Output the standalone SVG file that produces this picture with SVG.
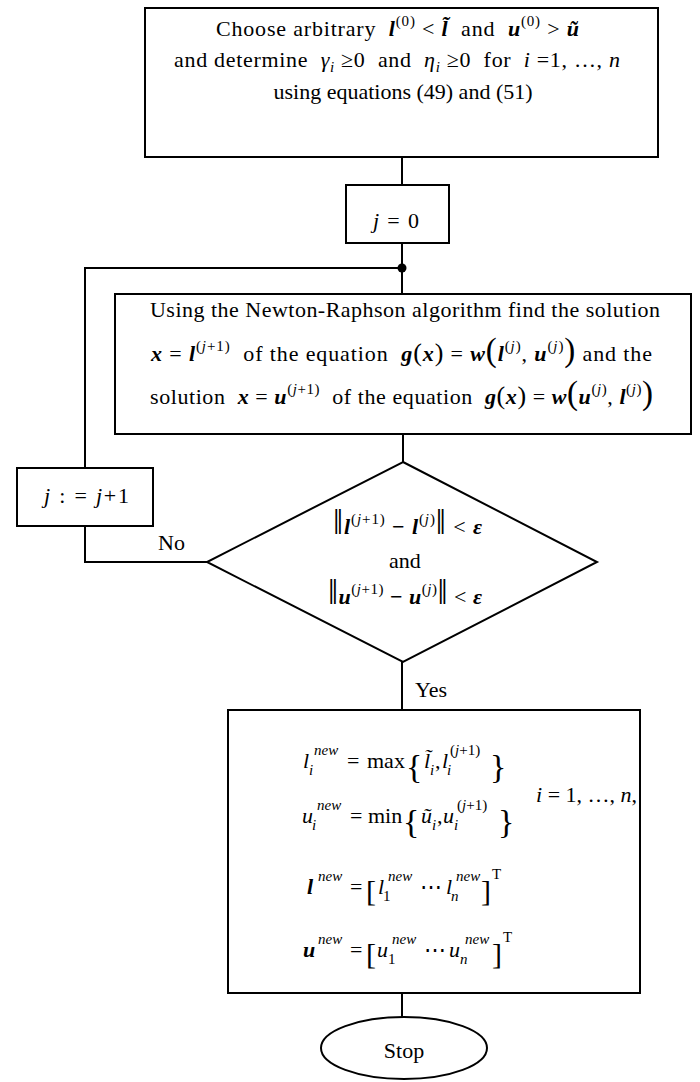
<svg xmlns="http://www.w3.org/2000/svg" width="700" height="1082" viewBox="0 0 700 1082">
<style>
.t{font-family:"Liberation Serif","Times New Roman",serif;font-size:22px;fill:#000}
.bi{font-weight:bold;font-style:italic}
.it{font-style:italic}
.b{font-weight:bold}
.s{font-size:15px}
.bp{font-size:26px}
.bp2{font-size:33px}
.nb{font-size:36px;font-family:"Liberation Serif","DejaVu Serif",serif}
.br{font-size:34px}
.bk{font-size:30px}
.box{fill:#fff;stroke:#000;stroke-width:2}
.ln{fill:none;stroke:#000;stroke-width:2}
</style>
<g id="connectors">
<path class="ln" d="M402,157 V185"/>
<path class="ln" d="M402,243 V294"/>
<path class="ln" d="M402,268 H85 V468"/>
<path class="ln" d="M85,526 V562 H207"/>
<path class="ln" d="M403,434 V462"/>
<path class="ln" d="M402,662 V710"/>
<path class="ln" d="M402,993 V1017"/>
<circle cx="402" cy="268" r="4.5" fill="#000"/>
<text class="t" x="158" y="550">No</text>
<text class="t" x="415" y="697">Yes</text>
</g>
<g id="init">
<rect class="box" x="145" y="8" width="513" height="149"/>
<text class="t" x="216" y="36" font-size="24" textLength="363" lengthAdjust="spacing">Choose arbitrary&#160; <tspan class="bi">l</tspan><tspan class="s" dy="-10">(0)</tspan><tspan dy="10">&#160;&lt;&#160;</tspan><tspan class="bi">l&#771;</tspan>&#160; and&#160; <tspan class="bi">u</tspan><tspan class="s" dy="-10">(0)</tspan><tspan dy="10">&#160;&gt;&#160;</tspan><tspan class="bi">u&#771;</tspan></text>
<text class="t" x="174" y="67" font-size="23" textLength="446" lengthAdjust="spacing">and determine&#160; <tspan class="it">γ</tspan><tspan class="s it" dy="5">i</tspan><tspan dy="-5">&#160;≥0&#160; and&#160; </tspan><tspan class="it">η</tspan><tspan class="s it" dy="5">i</tspan><tspan dy="-5">&#160;≥0&#160; for&#160; </tspan><tspan class="it">i</tspan> =1, …, <tspan class="it">n</tspan></text>
<text class="t" x="403" y="99" font-size="23" text-anchor="middle">using equations (49) and (51)</text>
</g>
<g id="j0">
<rect class="box" x="346" y="185" width="103" height="58"/>
<text class="t" x="373" y="228" textLength="46" lengthAdjust="spacing"><tspan class="it">j</tspan> = 0</text>
</g>
<g id="newton">
<rect class="box" x="115" y="294" width="576" height="140"/>
<text class="t" x="150" y="317" textLength="510" lengthAdjust="spacing">Using the Newton-Raphson algorithm find the solution</text>
<text class="t" x="151" y="361" textLength="501" lengthAdjust="spacing"><tspan class="bi">x</tspan> = <tspan class="bi">l</tspan><tspan class="s" dy="-10">(<tspan class="it">j</tspan>+1)</tspan><tspan dy="10">&#160; of the equation&#160; </tspan><tspan class="bi">g</tspan><tspan class="bp">(</tspan><tspan class="bi">x</tspan><tspan class="bp">)</tspan> = <tspan class="bi">w</tspan><tspan class="bp2">(</tspan><tspan class="bi">l</tspan><tspan class="s" dy="-10">(<tspan class="it">j</tspan>)</tspan><tspan dy="10">, </tspan><tspan class="bi">u</tspan><tspan class="s" dy="-10">(<tspan class="it">j</tspan>)</tspan><tspan class="bp2" dy="10">)</tspan> and the</text>
<text class="t" x="150" y="404" textLength="503" lengthAdjust="spacing">solution&#160; <tspan class="bi">x</tspan> = <tspan class="bi">u</tspan><tspan class="s" dy="-10">(<tspan class="it">j</tspan>+1)</tspan><tspan dy="10">&#160; of the equation&#160; </tspan><tspan class="bi">g</tspan><tspan class="bp">(</tspan><tspan class="bi">x</tspan><tspan class="bp">)</tspan> = <tspan class="bi">w</tspan><tspan class="bp2">(</tspan><tspan class="bi">u</tspan><tspan class="s" dy="-10">(<tspan class="it">j</tspan>)</tspan><tspan dy="10">, </tspan><tspan class="bi">l</tspan><tspan class="s" dy="-10">(<tspan class="it">j</tspan>)</tspan><tspan class="bp2" dy="10">)</tspan></text>
</g>
<g id="incr">
<rect class="box" x="17" y="468" width="136" height="58"/>
<text class="t" x="44" y="503" textLength="85" lengthAdjust="spacing"><tspan class="it">j</tspan> : = <tspan class="it">j</tspan>+1</text>
</g>
<g id="test">
<polygon class="box" points="403,462 597,562 403,662 207,562"/>
<text class="t" x="333" y="534" textLength="149" lengthAdjust="spacing"><tspan class="nb">‖</tspan><tspan class="bi">l</tspan><tspan class="s" dy="-10">(<tspan class="it">j</tspan>+1)</tspan><tspan class="b" dy="10"> − </tspan><tspan class="bi">l</tspan><tspan class="s" dy="-10">(<tspan class="it">j</tspan>)</tspan><tspan class="nb" dy="10">‖</tspan> &lt; <tspan class="bi">ε</tspan></text>
<text class="t" x="405" y="568" text-anchor="middle">and</text>
<text class="t" x="328" y="604" textLength="154" lengthAdjust="spacing"><tspan class="nb">‖</tspan><tspan class="bi">u</tspan><tspan class="s" dy="-10">(<tspan class="it">j</tspan>+1)</tspan><tspan class="b" dy="10"> − </tspan><tspan class="bi">u</tspan><tspan class="s" dy="-10">(<tspan class="it">j</tspan>)</tspan><tspan class="nb" dy="10">‖</tspan> &lt; <tspan class="bi">ε</tspan></text>
</g>
<g id="result">
<rect class="box" x="228" y="710" width="412" height="283"/>
<text class="t">
<tspan class="it" x="303" y="768">l</tspan><tspan class="s it" x="314" y="755">new</tspan><tspan class="s it" x="309" y="775">i</tspan>
<tspan x="347" y="768">=</tspan><tspan x="367" y="768">max</tspan>
<tspan class="br" x="406" y="778">{</tspan>
<tspan class="it" x="424" y="768">l&#771;</tspan><tspan class="s it" x="430" y="775">i</tspan><tspan x="435" y="768">,</tspan>
<tspan class="it" x="442" y="768">l</tspan><tspan class="s it" x="447" y="775">i</tspan><tspan class="s" x="450" y="755">(<tspan class="it">j</tspan>+1)</tspan>
<tspan class="br" x="490" y="778">}</tspan>
</text>
<text class="t">
<tspan class="it" x="302" y="823">u</tspan><tspan class="s it" x="317" y="810">new</tspan><tspan class="s it" x="312" y="830">i</tspan>
<tspan x="350" y="823">=</tspan><tspan x="368" y="823">min</tspan>
<tspan class="br" x="403" y="833">{</tspan>
<tspan class="it" x="421" y="823">u&#771;</tspan><tspan class="s it" x="432" y="830">i</tspan><tspan x="437" y="823">,</tspan>
<tspan class="it" x="443" y="823">u</tspan><tspan class="s it" x="454" y="830">i</tspan><tspan class="s" x="457" y="810">(<tspan class="it">j</tspan>+1)</tspan>
<tspan class="br" x="498" y="833">}</tspan>
</text>
<text class="t" x="536" y="802"><tspan class="it">i</tspan> = 1, …, <tspan class="it">n</tspan>,</text>
<text class="t">
<tspan class="bi" x="307" y="894">l</tspan><tspan class="s it" x="318" y="881">new</tspan>
<tspan x="350" y="894">=</tspan>
<tspan class="bk" x="366" y="901">[</tspan>
<tspan class="it" x="378" y="894">l</tspan><tspan class="s" x="383" y="901">1</tspan><tspan class="s it" x="388" y="881">new</tspan>
<tspan x="420" y="894">⋯</tspan>
<tspan class="it" x="446" y="894">l</tspan><tspan class="s it" x="451" y="901">n</tspan><tspan class="s it" x="456" y="881">new</tspan>
<tspan class="bk" x="481" y="901">]</tspan><tspan class="s" x="492" y="879">T</tspan>
</text>
<text class="t">
<tspan class="bi" x="303" y="957">u</tspan><tspan class="s it" x="318" y="944">new</tspan>
<tspan x="350" y="957">=</tspan>
<tspan class="bk" x="366" y="964">[</tspan>
<tspan class="it" x="377" y="957">u</tspan><tspan class="s" x="388" y="964">1</tspan><tspan class="s it" x="392" y="944">new</tspan>
<tspan x="424" y="957">⋯</tspan>
<tspan class="it" x="449" y="957">u</tspan><tspan class="s it" x="460" y="964">n</tspan><tspan class="s it" x="465" y="944">new</tspan>
<tspan class="bk" x="492" y="964">]</tspan><tspan class="s" x="503" y="942">T</tspan>
</text>
</g>
<g id="stop">
<ellipse class="box" cx="404" cy="1048" rx="83" ry="31"/>
<text class="t" x="404" y="1058" font-size="25" text-anchor="middle">Stop</text>
</g>
</svg>
